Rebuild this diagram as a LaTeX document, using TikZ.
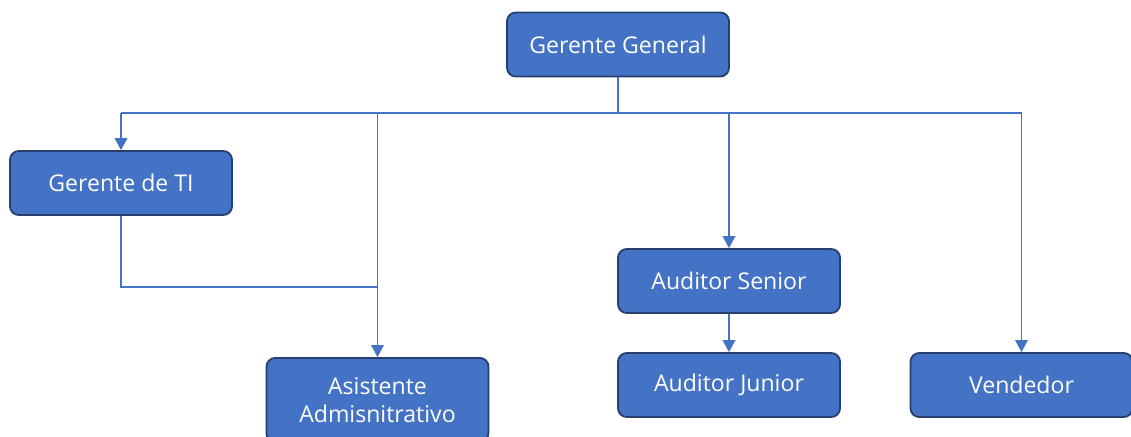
\documentclass[tikz,border=0pt]{standalone}
\usepackage{fontspec}
\setmainfont{Open Sans}
\usepackage{tikz}
\usetikzlibrary{arrows.meta,calc,positioning}
\definecolor{boxblue}{HTML}{4472C4}
\definecolor{boxline}{HTML}{263F6E}
\tikzset{
  org chart/.style = {
    x=0.025cm, y=-0.025cm,
    % Cajas
    puesto/.style = {
      draw=boxline, fill=boxblue, line width=1.3pt,
      rounded corners=0.22cm, text=white,
      font=\fontsize{16.4}{20}\selectfont,
      minimum width=5.55cm, minimum height=1.6cm,
      align=center, inner sep=0pt
    },
    % Lineas
    enlace/.style  = {draw=boxblue, line width=0.8pt},
    flecha/.style  = {enlace, -{Triangle[length=8.5pt,width=9pt]}},
  }
}
\begin{document}
\begin{tikzpicture}[org chart]
\useasboundingbox (0,0) rectangle (1131,436);
\clip (0,0) rectangle (1131,436);

\node[puesto] (gg) at (618,44.5)  {Gerente General};
\node[puesto] (ti) at (121,183)   {Gerente de TI};
\node[puesto, minimum height=2.1cm, anchor=north] (asis) at (377.5,357) {Asistente\\Admisnitrativo};
\node[puesto] (sen) at (729,281)  {Auditor Senior};
\node[puesto] (jun) at (729,385)  {Auditor Junior};
\node[puesto] (ven) at (1021.5,385) {Vendedor};

%---------------------------------------------
\coordinate (bus) at (618,113);
\coordinate (ti-bus) at (121,287);
\draw[enlace] (gg.south) -- (bus);
\draw[enlace] (ti |- bus) -- (ven |- bus);
\draw[flecha] (ti |- bus) -- (ti.north);
\draw[flecha] (asis |- bus) -- (asis.north);
\draw[flecha] (sen |- bus) -- (sen.north);
\draw[flecha] (ven |- bus) -- (ven.north);
\draw[enlace] (ti.south) -- (ti-bus) -- (asis |- ti-bus);
\draw[flecha] (sen.south) -- (jun.north);

\end{tikzpicture}
\end{document}
